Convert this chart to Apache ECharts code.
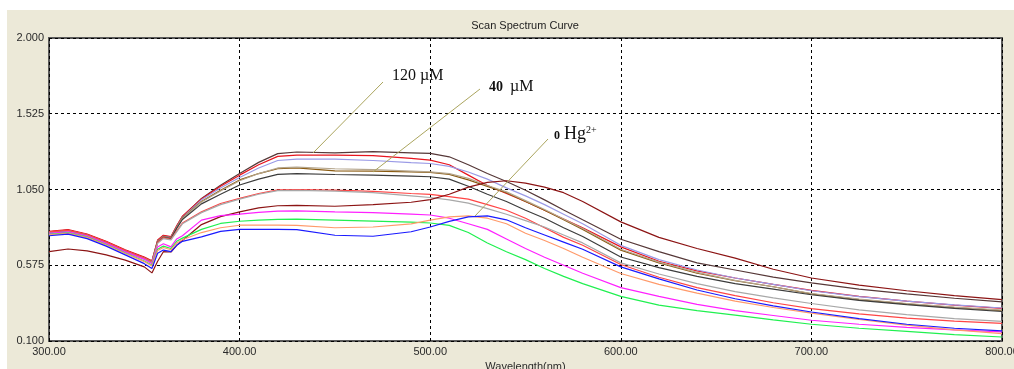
<!DOCTYPE html>
<html>
<head>
<meta charset="utf-8">
<script src="https://cdn.jsdelivr.net/npm/echarts@6/dist/echarts.min.js"></script>
<style>
  html, body { margin: 0; padding: 0; background: #fff; }
  #wrap { position: relative; width: 1014px; height: 369px; background: #fff; overflow: hidden; }
  #panel { position: absolute; left: 7px; top: 10px; right: 0; bottom: 0; background: #ECE9D8; }
  #chart { position: absolute; left: 0; top: 0; width: 1014px; height: 369px; }
</style>
</head>
<body>
<div id="wrap">
  <div id="panel"></div>
  <div id="chart"></div>
</div>
<script>
// Wavelength sampling (nm)
const wavelengths = [300, 310, 320, 330, 340, 350, 354, 357, 360, 364, 367, 370,
  380, 390, 400, 410, 420, 430, 450, 470, 490, 500, 510, 520, 530, 540, 550, 560,
  570, 580, 600, 620, 640, 660, 680, 700, 725, 750, 775, 800];

// Absorbance scans, one array per Hg2+ concentration step
const scanA = [0.785, 0.795, 0.768, 0.722, 0.669, 0.623, 0.600, 0.730, 0.760, 0.752, 0.820, 0.880,
  0.994, 1.077, 1.150, 1.220, 1.275, 1.285, 1.280, 1.288, 1.280, 1.276, 1.255, 1.205, 1.150, 1.100,
  1.045, 0.985, 0.922, 0.860, 0.738, 0.660, 0.590, 0.545, 0.500, 0.464, 0.425, 0.395, 0.368, 0.345];
const scanB = [0.788, 0.798, 0.771, 0.725, 0.672, 0.626, 0.603, 0.733, 0.763, 0.755, 0.822, 0.882,
  0.990, 1.070, 1.140, 1.205, 1.258, 1.266, 1.265, 1.262, 1.245, 1.234, 1.205, 1.140, 1.075, 1.025,
  0.975, 0.920, 0.865, 0.810, 0.690, 0.600, 0.540, 0.495, 0.455, 0.418, 0.380, 0.350, 0.325, 0.305];
const scanC = [0.782, 0.792, 0.765, 0.719, 0.666, 0.620, 0.597, 0.726, 0.756, 0.748, 0.815, 0.875,
  0.985, 1.060, 1.125, 1.185, 1.232, 1.240, 1.240, 1.232, 1.218, 1.213, 1.195, 1.160, 1.115, 1.060,
  1.010, 0.955, 0.895, 0.835, 0.700, 0.610, 0.545, 0.495, 0.455, 0.415, 0.378, 0.350, 0.326, 0.307];
const scanD = [0.780, 0.790, 0.763, 0.717, 0.664, 0.618, 0.595, 0.724, 0.754, 0.746, 0.812, 0.872,
  0.975, 1.045, 1.110, 1.150, 1.180, 1.186, 1.167, 1.165, 1.160, 1.157, 1.145, 1.110, 1.070, 1.030,
  0.975, 0.920, 0.860, 0.800, 0.670, 0.590, 0.525, 0.478, 0.440, 0.395, 0.360, 0.333, 0.310, 0.290];
const scanE = [0.779, 0.789, 0.762, 0.716, 0.663, 0.617, 0.594, 0.722, 0.752, 0.744, 0.810, 0.868,
  0.972, 1.040, 1.105, 1.150, 1.185, 1.190, 1.180, 1.175, 1.165, 1.160, 1.150, 1.120, 1.075, 1.035,
  0.980, 0.925, 0.865, 0.805, 0.675, 0.595, 0.530, 0.480, 0.440, 0.398, 0.362, 0.335, 0.312, 0.293];
const scanF = [0.778, 0.788, 0.761, 0.715, 0.662, 0.616, 0.593, 0.720, 0.750, 0.742, 0.806, 0.862,
  0.960, 1.020, 1.078, 1.115, 1.145, 1.150, 1.144, 1.140, 1.134, 1.130, 1.115, 1.070, 1.020, 0.975,
  0.920, 0.870, 0.810, 0.755, 0.627, 0.560, 0.505, 0.460, 0.425, 0.390, 0.355, 0.328, 0.305, 0.285];
const scanG = [0.784, 0.794, 0.766, 0.720, 0.667, 0.620, 0.597, 0.718, 0.748, 0.738, 0.790, 0.840,
  0.910, 0.962, 0.994, 1.025, 1.048, 1.050, 1.046, 1.038, 1.025, 1.020, 1.005, 0.990, 0.955, 0.920,
  0.870, 0.810, 0.750, 0.700, 0.580, 0.500, 0.435, 0.385, 0.340, 0.303, 0.270, 0.243, 0.225, 0.210];
const scanH = [0.776, 0.786, 0.759, 0.713, 0.660, 0.614, 0.591, 0.712, 0.742, 0.734, 0.784, 0.835,
  0.905, 0.955, 0.990, 1.020, 1.043, 1.045, 1.040, 1.030, 1.010, 1.000, 0.985, 0.965, 0.930, 0.895,
  0.855, 0.815, 0.765, 0.715, 0.590, 0.520, 0.460, 0.410, 0.370, 0.335, 0.295, 0.265, 0.240, 0.223];
const scanI = [0.660, 0.677, 0.665, 0.640, 0.607, 0.565, 0.527, 0.600, 0.660, 0.658, 0.700, 0.730,
  0.830, 0.880, 0.910, 0.935, 0.948, 0.950, 0.945, 0.955, 0.970, 0.987, 1.020, 1.065, 1.095, 1.105,
  1.090, 1.065, 1.030, 0.975, 0.847, 0.750, 0.680, 0.620, 0.550, 0.495, 0.450, 0.415, 0.385, 0.360];
const scanJ = [0.775, 0.785, 0.758, 0.712, 0.659, 0.612, 0.585, 0.690, 0.710, 0.690, 0.740, 0.760,
  0.858, 0.886, 0.895, 0.907, 0.915, 0.916, 0.910, 0.905, 0.895, 0.890, 0.870, 0.835, 0.800, 0.740,
  0.680, 0.625, 0.575, 0.525, 0.435, 0.380, 0.330, 0.290, 0.260, 0.230, 0.205, 0.185, 0.170, 0.157];
const scanK = [0.768, 0.778, 0.751, 0.705, 0.652, 0.602, 0.575, 0.675, 0.695, 0.680, 0.725, 0.745,
  0.800, 0.837, 0.851, 0.858, 0.863, 0.864, 0.858, 0.852, 0.845, 0.840, 0.825, 0.780, 0.715, 0.660,
  0.610, 0.555, 0.505, 0.460, 0.380, 0.325, 0.290, 0.262, 0.232, 0.205, 0.180, 0.160, 0.140, 0.125];
const scanL = [0.765, 0.775, 0.748, 0.702, 0.649, 0.598, 0.570, 0.668, 0.686, 0.672, 0.715, 0.735,
  0.780, 0.810, 0.826, 0.826, 0.826, 0.825, 0.810, 0.815, 0.835, 0.858, 0.878, 0.885, 0.870, 0.835,
  0.776, 0.730, 0.680, 0.625, 0.523, 0.455, 0.400, 0.350, 0.310, 0.275, 0.235, 0.200, 0.170, 0.146];
const scanM = [0.760, 0.770, 0.742, 0.695, 0.640, 0.585, 0.555, 0.650, 0.670, 0.660, 0.700, 0.725,
  0.753, 0.787, 0.800, 0.800, 0.800, 0.798, 0.763, 0.757, 0.785, 0.815, 0.850, 0.878, 0.885, 0.860,
  0.810, 0.765, 0.720, 0.675, 0.565, 0.490, 0.420, 0.365, 0.320, 0.282, 0.240, 0.205, 0.180, 0.163];

const scans = [scanA, scanB, scanC, scanD, scanE, scanF, scanG, scanH, scanI, scanJ, scanK, scanL, scanM];
const scanColors = ['#563838', '#e8141e', '#9a9ae6', '#8a5a10', '#b4a58c', '#3c3c3c', '#ff4545',
  '#a8a8a8', '#8c1414', '#ff20ff', '#20f050', '#ff9a6a', '#1a1aff'];

// Axis ticks
const xTicks = { min: 300, max: 800, step: 100 };
const yTicks = { min: 0.100, max: 2.000, step: 0.475 };

// The value axis starts at zero; readings are shifted by the lowest tick
const BASE = yTicks.min;

const chart = echarts.init(document.getElementById('chart'), null, { renderer: 'canvas' });

const uiFont = '"Liberation Sans", Arial, sans-serif';
const serif = '"Liberation Serif", "Times New Roman", serif';
const leader = '#aba55e';

chart.setOption({
  backgroundColor: 'transparent',
  animation: false,
  grid: {
    left: 49, right: 12, top: 38, bottom: 28,
    outerBoundsMode: 'none',
    show: true, backgroundColor: '#ffffff', borderColor: '#5a5a5a', borderWidth: 2
  },
  xAxis: {
    type: 'value', min: xTicks.min, max: xTicks.max, interval: xTicks.step,
    axisLine: { show: false }, axisTick: { show: false },
    splitLine: { show: true, lineStyle: { color: '#000', type: [3, 3], width: 1 } },
    axisLabel: { formatter: v => v.toFixed(2), color: '#2a2a2a', fontSize: 11, fontFamily: uiFont, margin: 5 },
    name: 'Wavelength(nm)', nameLocation: 'middle', nameGap: 19,
    nameTextStyle: { color: '#2a2a2a', fontSize: 11, fontFamily: uiFont }
  },
  yAxis: {
    type: 'value', min: 0, max: yTicks.max - BASE, interval: yTicks.step,
    axisLine: { show: false }, axisTick: { show: false },
    splitLine: { show: true, lineStyle: { color: '#000', type: [3, 3], width: 1 } },
    axisLabel: { formatter: v => (v + BASE).toFixed(3), color: '#2a2a2a', fontSize: 11, fontFamily: uiFont, margin: 5 }
  },
  series: scans.map((vals, k) => ({
    type: 'line',
    symbol: 'none',
    smooth: false,
    lineStyle: { color: scanColors[k], width: 1.2 },
    data: wavelengths.map((w, i) => [w, vals[i] - BASE])
  })),
  graphic: [
    { type: 'text', x: 525, y: 26, style: { text: 'Scan Spectrum Curve', font: '11px ' + uiFont, fill: '#222', align: 'center', verticalAlign: 'middle' } },
    // leader lines
    { type: 'line', shape: { x1: 383, y1: 82, x2: 313, y2: 153 }, style: { stroke: leader, lineWidth: 1 }, z: 100 },
    { type: 'line', shape: { x1: 480, y1: 89, x2: 373, y2: 172 }, style: { stroke: leader, lineWidth: 1 }, z: 100 },
    { type: 'line', shape: { x1: 548, y1: 139, x2: 475, y2: 216 }, style: { stroke: leader, lineWidth: 1 }, z: 100 },
    // annotations
    { type: 'text', x: 392, y: 76, z: 100, style: { text: '120 µM', font: '16px ' + serif, fill: '#111', verticalAlign: 'middle' } },
    { type: 'text', x: 489, y: 94, z: 100, style: { text: '40', font: 'bold 14px ' + serif, fill: '#111', verticalAlign: 'bottom' } },
    { type: 'text', x: 510, y: 95, z: 100, style: { text: 'µM', font: '16px ' + serif, fill: '#111', verticalAlign: 'bottom' } },
    { type: 'text', x: 554, y: 142, z: 100, style: { text: '0', font: 'bold 12px ' + serif, fill: '#111', verticalAlign: 'bottom' } },
    { type: 'text', x: 564, y: 143, z: 100, style: { text: 'Hg', font: '18px ' + serif, fill: '#111', verticalAlign: 'bottom' } },
    { type: 'text', x: 586, y: 135, z: 100, style: { text: '2+', font: '10px ' + serif, fill: '#111', verticalAlign: 'bottom' } }
  ]
});
</script>
</body>
</html>
